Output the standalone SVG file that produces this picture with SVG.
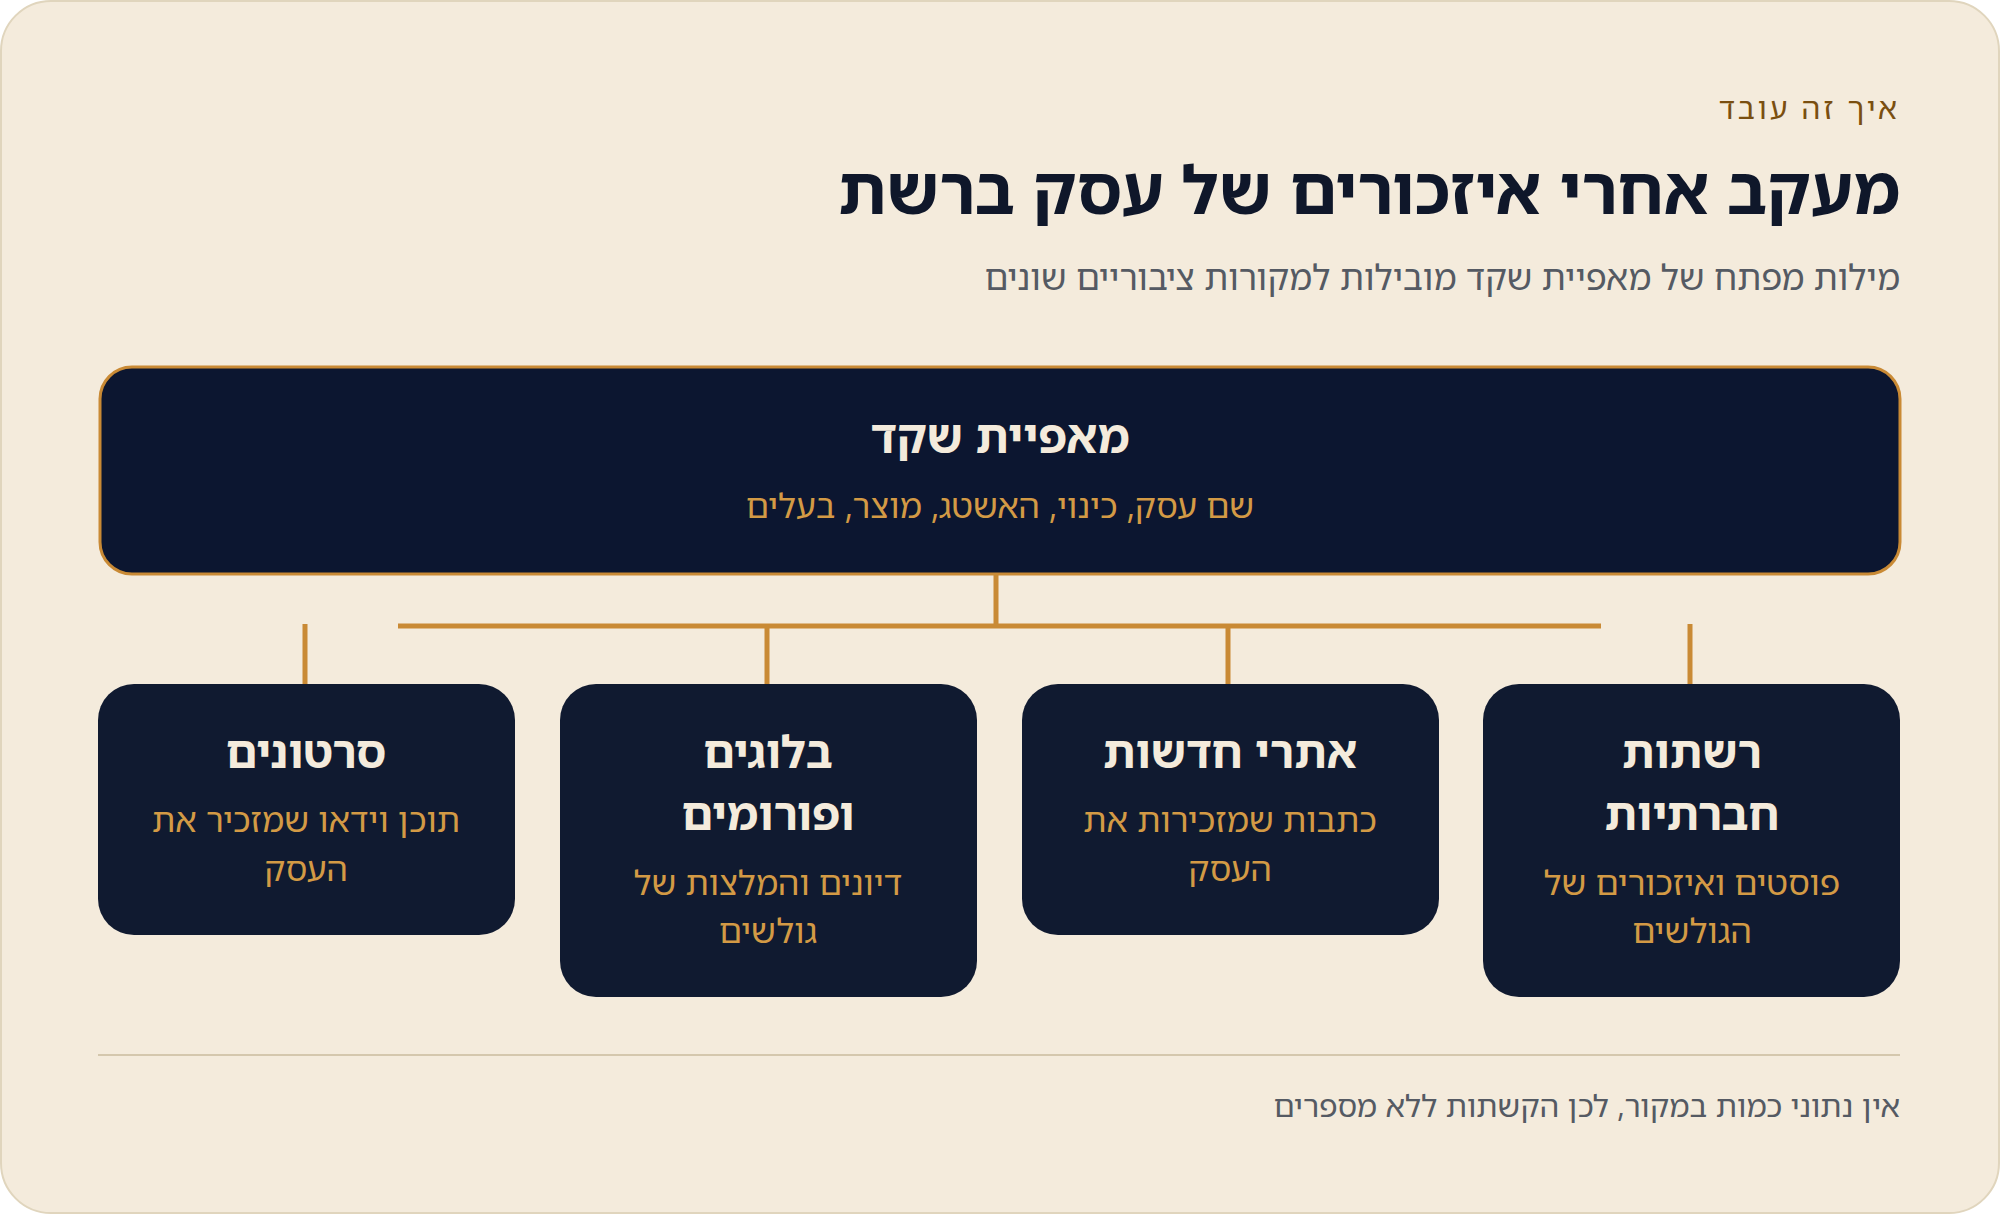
<svg xmlns="http://www.w3.org/2000/svg" width="2000" height="1214" viewBox="0 0 2000 1214">
<style>
text{font-family:"Noto Sans Hebrew","Noto Sans","Liberation Sans","DejaVu Sans",sans-serif;direction:rtl}
.r{text-anchor:start}
.c{text-anchor:middle}
.t{font-size:45px;font-weight:700;fill:#f4ebdc}
.d{font-size:34px;fill:#d39a45}
.box{fill:#101a30}
.ln{stroke:#c98a35;stroke-width:5;fill:none}
</style>
<rect x="1" y="1" width="1998" height="1212" rx="50" fill="#f4ebdc" stroke="#e0d5bd" stroke-width="2"/>
<g id="header">
<text class="r" x="1900" y="119" font-size="30" letter-spacing="3" fill="#7a4f10">איך זה עובד</text>
<text class="r" x="1900" y="214" font-size="67" font-weight="700" fill="#0f172a">מעקב אחרי איזכורים של עסק ברשת</text>
<text class="r" x="1900" y="290" font-size="35" fill="#555a63">מילות מפתח של מאפיית שקד מובילות למקורות ציבוריים שונים</text>
</g>
<g id="connectors">
<path class="ln" d="M996 574V626M398 626H1601M767 626V684M1228 626V684M305 624V684M1690 624V684"/>
</g>
<g id="root">
<rect x="100" y="367" width="1800" height="207" rx="32" fill="#0c1630" stroke="#c98a35" stroke-width="3"/>
<text class="c t" x="1000" y="453" style="font-size:46px">מאפיית שקד</text>
<text class="c d" x="1000" y="518">שם עסק, כינוי, האשטג, מוצר, בעלים</text>
</g>
<g id="n1">
<rect class="box" x="98" y="684" width="417" height="251" rx="36"/>
<text class="c t" x="306" y="768">סרטונים</text>
<text class="c d" x="306" y="832">תוכן וידאו שמזכיר את</text>
<text class="c d" x="306" y="881">העסק</text>
</g>
<g id="n2">
<rect class="box" x="560" y="684" width="417" height="313" rx="36"/>
<text class="c t" x="768" y="768">בלוגים</text>
<text class="c t" x="768" y="830">ופורומים</text>
<text class="c d" x="768" y="895">דיונים והמלצות של</text>
<text class="c d" x="768" y="943">גולשים</text>
</g>
<g id="n3">
<rect class="box" x="1022" y="684" width="417" height="251" rx="36"/>
<text class="c t" x="1230" y="768">אתרי חדשות</text>
<text class="c d" x="1230" y="832">כתבות שמזכירות את</text>
<text class="c d" x="1230" y="881">העסק</text>
</g>
<g id="n4">
<rect class="box" x="1483" y="684" width="417" height="313" rx="36"/>
<text class="c t" x="1692" y="768">רשתות</text>
<text class="c t" x="1692" y="830">חברתיות</text>
<text class="c d" x="1692" y="895">פוסטים ואיזכורים של</text>
<text class="c d" x="1692" y="943">הגולשים</text>
</g>
<g id="footer">
<line x1="98" y1="1055" x2="1900" y2="1055" stroke="#d4c7ad" stroke-width="2"/>
<text class="r" x="1900" y="1117" font-size="31" fill="#555a63">אין נתוני כמות במקור, לכן הקשתות ללא מספרים</text>
</g>
</svg>
